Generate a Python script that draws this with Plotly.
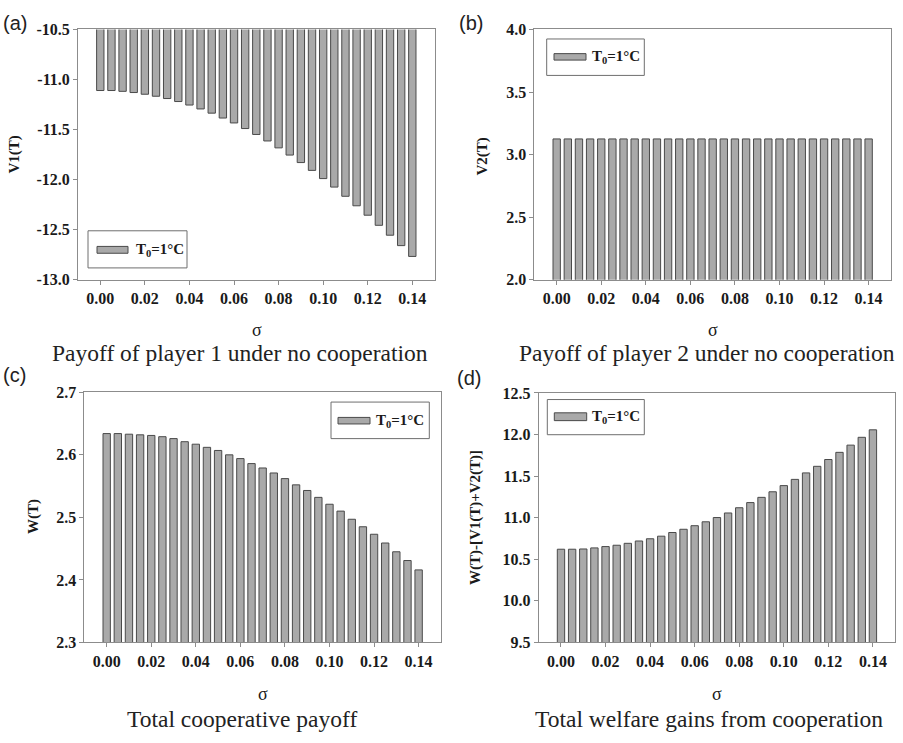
import plotly.graph_objects as go

# sigma grid: 0.000 .. 0.140 in steps of 0.005
sigma = [round(i * 0.005, 3) for i in range(29)]

# (a) payoff of player 1 without cooperation
v1 = [-11.11, -11.11, -11.118, -11.13, -11.147, -11.167, -11.19, -11.22,
      -11.255, -11.294, -11.336, -11.385, -11.434, -11.49, -11.549, -11.614,
      -11.683, -11.755, -11.83, -11.908, -11.99, -12.075, -12.167, -12.262,
      -12.356, -12.457, -12.556, -12.66, -12.768]

# (b) payoff of player 2 without cooperation
v2 = [3.125] * 29

# (c) total cooperative payoff
w = [2.634, 2.634, 2.633, 2.632, 2.631, 2.629, 2.626, 2.621, 2.617, 2.612,
     2.607, 2.600, 2.594, 2.586, 2.579, 2.571, 2.562, 2.552, 2.543, 2.532,
     2.521, 2.510, 2.497, 2.485, 2.473, 2.459, 2.445, 2.431, 2.416]

# (d) welfare gains from cooperation
gain = [10.621, 10.621, 10.624, 10.637, 10.653, 10.669, 10.692, 10.72,
        10.747, 10.778, 10.822, 10.861, 10.904, 10.951, 11.002, 11.057,
        11.12, 11.182, 11.245, 11.312, 11.386, 11.461, 11.539, 11.618,
        11.7, 11.786, 11.873, 11.967, 12.057]

x_ticks = [0.00, 0.02, 0.04, 0.06, 0.08, 0.10, 0.12, 0.14]
x_tick_labels = ["0.00", "0.02", "0.04", "0.06", "0.08", "0.10", "0.12", "0.14"]

y_ticks_a = [-13.0, -12.5, -12.0, -11.5, -11.0, -10.5]
y_labels_a = ["-13.0", "-12.5", "-12.0", "-11.5", "-11.0", "-10.5"]
y_ticks_b = [2.0, 2.5, 3.0, 3.5, 4.0]
y_labels_b = ["2.0", "2.5", "3.0", "3.5", "4.0"]
y_ticks_c = [2.3, 2.4, 2.5, 2.6, 2.7]
y_labels_c = ["2.3", "2.4", "2.5", "2.6", "2.7"]
y_ticks_d = [9.5, 10.0, 10.5, 11.0, 11.5, 12.0, 12.5]
y_labels_d = ["9.5", "10.0", "10.5", "11.0", "11.5", "12.0", "12.5"]

y_titles = ["V1(T)", "V2(T)", "W(T)", "W(T)-[V1(T)+V2(T)]"]
captions = ["Payoff of player 1 under no cooperation",
            "Payoff of player 2 under no cooperation",
            "Total cooperative payoff",
            "Total welfare gains from cooperation"]
panel_tags = ["(a)", "(b)", "(c)", "(d)"]
legend_label = "T<sub>0</sub>=1°C"

W, H = 903, 743
SERIF = "Liberation Serif, Times New Roman, serif"
SANS = "Liberation Sans, Arial, sans-serif"
BAR_FILL = "#a9a9a9"
BAR_EDGE = "#4a4a4a"
FRAME = "#8c8c8c"


def px(x):
    return x / W


def py(y):
    return 1 - y / H


# plot boxes in pixels: (left, top, right, bottom)
boxes = [(78.0, 22.0, 434.6, 278.0),
         (534.4, 22.0, 890.9, 278.0),
         (84.4, 393.3, 440.9, 649.3),
         (538.7, 394.0, 895.2, 649.3)]
y_ranges = [[-13.0, -10.5], [2.0, 4.0], [2.3, 2.7], [9.5, 12.5]]
y_tick_sets = [(y_ticks_a, y_labels_a), (y_ticks_b, y_labels_b),
               (y_ticks_c, y_labels_c), (y_ticks_d, y_labels_d)]
series = [v1, v2, w, gain]

fig = go.Figure()
layout = dict(
    width=W, height=H,
    margin=dict(l=0, r=0, t=0, b=0),
    paper_bgcolor="white", plot_bgcolor="white",
    showlegend=False, bargap=0.34,
)

for i, (vals, box) in enumerate(zip(series, boxes)):
    n = "" if i == 0 else str(i + 1)
    fig.add_trace(go.Bar(
        x=sigma, y=vals, name="T0=1°C",
        xaxis="x" + n, yaxis="y" + n,
        marker=dict(color=BAR_FILL, line=dict(color=BAR_EDGE, width=1)),
    ))
    l, t, r, b = box
    layout["xaxis" + n] = dict(
        domain=[px(l), px(r)], anchor="y" + n, range=[-0.01, 0.15],
        tickvals=x_ticks, ticktext=x_tick_labels,
        ticks="outside", ticklen=4, tickcolor=FRAME,
        showline=True, mirror=True, linecolor=FRAME, linewidth=1,
        showgrid=False, zeroline=False,
        tickfont=dict(family=SERIF, size=16, color="#1a1a1a", weight="bold"),
    )
    tv, tt = y_tick_sets[i]
    layout["yaxis" + n] = dict(
        domain=[py(b), py(t)], anchor="x" + n, range=y_ranges[i],
        tickvals=tv, ticktext=tt,
        ticks="outside", ticklen=4, tickcolor=FRAME,
        showline=True, mirror=True, linecolor=FRAME, linewidth=1,
        showgrid=False, zeroline=False,
        tickfont=dict(family=SERIF, size=16, color="#1a1a1a", weight="bold"),
    )

fig.update_layout(**layout)

annotations = []
shapes = []

# y-axis titles
y_title_pos = [(15, 150), (483, 152), (33, 521), (475, 521)]
for text, (x, y) in zip(y_titles, y_title_pos):
    annotations.append(dict(
        text=text, x=px(x), y=py(y), xref="paper", yref="paper",
        textangle=-90, showarrow=False, xanchor="center", yanchor="middle",
        font=dict(family=SERIF, size=15, color="#1a1a1a", weight="bold")))

# sigma axis titles
sigma_pos = [(257, 330), (713, 330), (263, 702), (717, 702)]
for x, y in sigma_pos:
    annotations.append(dict(
        text="σ", x=px(x), y=py(y), xref="paper", yref="paper",
        showarrow=False, xanchor="center", yanchor="middle",
        font=dict(family=SERIF, size=18, color="#1a1a1a")))

# captions under each panel
caption_pos = [(240, 353), (707, 353), (242, 728), (709, 728)]
for text, (x, y) in zip(captions, caption_pos):
    annotations.append(dict(
        text=text, x=px(x), y=py(y), xref="paper", yref="paper",
        showarrow=False, xanchor="center", yanchor="middle",
        font=dict(family=SERIF, size=23.5, color="#222")))

# panel tags
tag_pos = [(1, 15), (457, 15), (1, 376), (455, 379)]
for text, (x, y) in zip(panel_tags, tag_pos):
    annotations.append(dict(
        text=text, x=px(x), y=py(y), xref="paper", yref="paper",
        showarrow=False, xanchor="left", yanchor="middle",
        font=dict(family=SANS, size=20, color="#222")))

# legend boxes: frame (l, t, r, b), swatch (l, t, r, b), text x
legends = [((88, 228, 187, 266), (97, 244, 128, 251), 134),
           ((546.7, 31.7, 644.3, 69), (554, 46.7, 586, 53.3), 590),
           ((331, 403.3, 429.3, 440.7), (338, 419, 370, 425.7), 374),
           ((547.3, 400.7, 644.3, 436.7), (554.3, 414.3, 586.7, 422.3), 590)]
for frame, sw, tx in legends:
    fl, ft, fr, fb = frame
    shapes.append(dict(type="rect", xref="paper", yref="paper",
                       x0=px(fl), x1=px(fr), y0=py(fb), y1=py(ft),
                       line=dict(color="#6e6e6e", width=1),
                       fillcolor="white"))
    sl, st, sr, sb = sw
    shapes.append(dict(type="rect", xref="paper", yref="paper",
                       x0=px(sl), x1=px(sr), y0=py(sb), y1=py(st),
                       line=dict(color=BAR_EDGE, width=1),
                       fillcolor=BAR_FILL))
    annotations.append(dict(
        text=legend_label, x=px(tx), y=py((st + sb) / 2),
        xref="paper", yref="paper", showarrow=False,
        xanchor="left", yanchor="middle",
        font=dict(family=SERIF, size=15, color="#1a1a1a", weight="bold")))

fig.update_layout(annotations=annotations, shapes=shapes)
fig.write_html("out.html")
